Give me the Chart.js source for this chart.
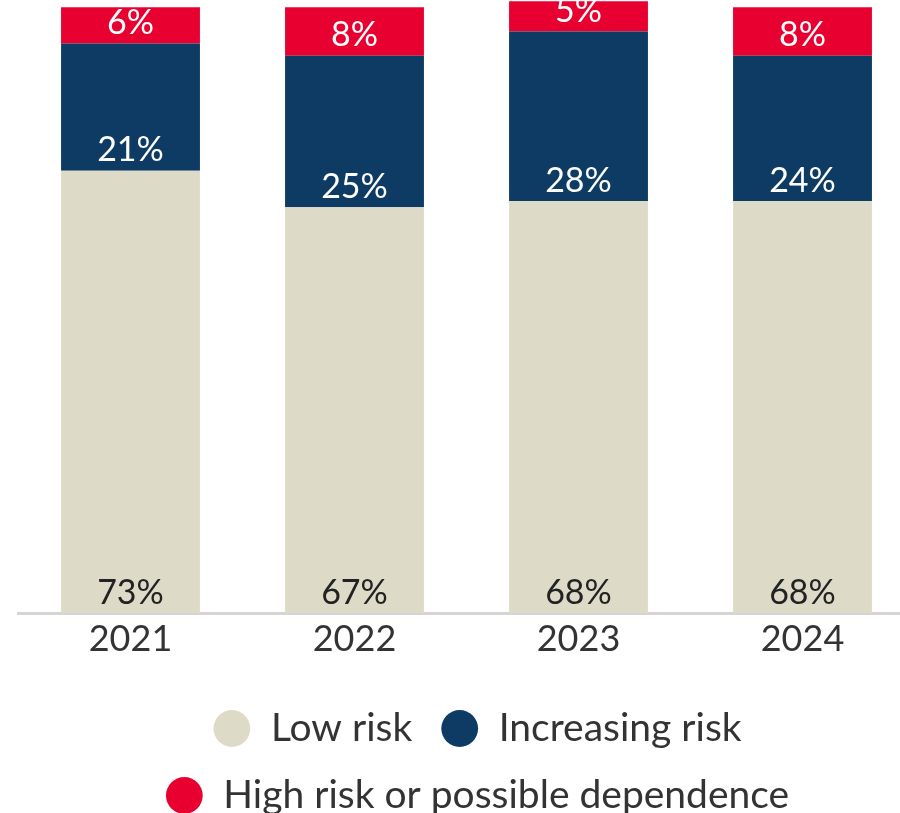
<!DOCTYPE html>
<html>
<head>
<meta charset="utf-8">
<script src="https://cdn.jsdelivr.net/npm/chart.js@4.4.1/dist/chart.umd.min.js"></script>
<style>
  html, body { margin: 0; padding: 0; background: #fff; overflow: hidden; }
  #wrap { position: absolute; left: 0; top: 0; width: 955px; height: 825px; }
</style>
</head>
<body>
<div id="wrap"><canvas id="mycanvas" width="955" height="825"></canvas></div>
<script>
var years = ['2021', '2022', '2023', '2024'];
var lowRisk = [73, 67, 68, 68];
var increasingRisk = [21, 25, 28, 24];
var highRisk = [6, 8, 5, 8];

var seriesNames = ['Low risk', 'Increasing risk', 'High risk or possible dependence'];
var seriesColors = ['#dddbc8', '#0d3b63', '#e80030'];
var labelColors = ['#222222', '#ffffff', '#ffffff'];

Chart.defaults.font.family = 'Lato, "Noto Sans", sans-serif';

// percentage written just above the bottom edge of every segment
var segmentLabels = {
  id: 'segmentLabels',
  afterDatasetsDraw: function(chart) {
    var ctx = chart.ctx;
    ctx.save();
    ctx.font = '34px Lato, "Noto Sans", sans-serif';
    ctx.textAlign = 'center';
    ctx.textBaseline = 'alphabetic';
    chart.data.datasets.forEach(function(ds, i) {
      var meta = chart.getDatasetMeta(i);
      ctx.fillStyle = labelColors[i];
      meta.data.forEach(function(bar, j) {
        ctx.fillText(ds.data[j] + '%', bar.x, bar.base - 9.5);
      });
    });
    ctx.restore();
  }
};

// nudge the legend block a little to the right of the plot centre
var legendShift = {
  id: 'legendShift',
  afterLayout: function(chart) {
    chart.legend.left += 10.5;
    chart.legend.right += 10.5;
  }
};

var chartdata = {
  labels: years,
  datasets: [
    { label: seriesNames[0], data: lowRisk, backgroundColor: seriesColors[0] },
    { label: seriesNames[1], data: increasingRisk, backgroundColor: seriesColors[1] },
    { label: seriesNames[2], data: highRisk, backgroundColor: seriesColors[2] }
  ]
};

var ctx = document.getElementById('mycanvas');

var myBarChart = new Chart(ctx, {
  type: 'bar',
  data: chartdata,
  plugins: [segmentLabels, legendShift],
  options: {
    responsive: false,
    animation: false,
    layout: { padding: { left: 18.5, right: 40.5, top: 0, bottom: 0 } },
    datasets: {
      bar: { categoryPercentage: 1, barPercentage: 0.62, borderWidth: 0 }
    },
    scales: {
      x: {
        stacked: true,
        grid: { display: false, drawTicks: false },
        border: { display: true, color: '#d4d4d4', width: 3 },
        ticks: { color: '#333333', font: { size: 36 }, padding: 5 },
        // leave room between the year labels and the legend
        afterFit: function(scale) { scale.height = 68; }
      },
      y: {
        stacked: true,
        display: false,
        min: 0,
        max: 101.2
      }
    },
    plugins: {
      tooltip: { enabled: false },
      legend: {
        position: 'bottom',
        labels: {
          usePointStyle: true,
          pointStyle: 'circle',
          boxHeight: 26,
          color: '#333333',
          font: { size: 39 },
          padding: 28
        }
      }
    }
  }
});
</script>
</body>
</html>
